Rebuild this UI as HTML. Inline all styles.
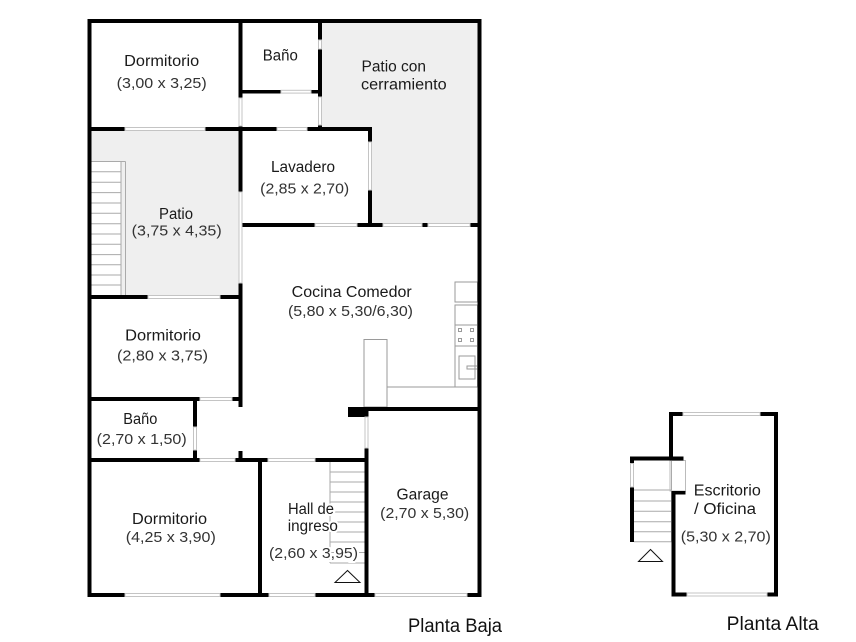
<!DOCTYPE html>
<html><head><meta charset="utf-8"><style>
html,body{margin:0;padding:0;background:#fff;}
svg{display:block;}
text{font-family:"Liberation Sans",sans-serif;}
.n{font-size:15.5px;fill:#1a1a1a;}
.d{font-size:15px;fill:#333;}
.t{font-size:19px;fill:#111;}
.w{fill:#fff;stroke:#c4c4c4;stroke-width:1;}
.f{fill:none;stroke:#9a9a9a;stroke-width:1;}
.h{stroke:#fff;stroke-width:4;paint-order:stroke;}
</style></head><body>
<svg width="856" height="642" viewBox="0 0 856 642" xmlns="http://www.w3.org/2000/svg">
<rect width="856" height="642" fill="#fff"/>
<polygon points="322,23 477.5,23 477.5,223 372,223 372,131 322,131" fill="#efefef"/>
<rect x="91.5" y="131" width="147" height="164" fill="#efefef"/>
<rect x="91.5" y="161.5" width="30" height="133.5" fill="#fff"/>
<g stroke="#aaa" stroke-width="1">
<line x1="91.5" y1="161.5" x2="125.5" y2="161.5"/>
<line x1="121" y1="161.5" x2="121" y2="295"/>
<line x1="125.5" y1="161.5" x2="125.5" y2="295"/>
<line x1="91.5" y1="171.7" x2="121" y2="171.7"/>
<line x1="91.5" y1="182.2" x2="121" y2="182.2"/>
<line x1="91.5" y1="192.6" x2="121" y2="192.6"/>
<line x1="91.5" y1="203" x2="121" y2="203"/>
<line x1="91.5" y1="213.3" x2="121" y2="213.3"/>
<line x1="91.5" y1="223.7" x2="121" y2="223.7"/>
<line x1="91.5" y1="234" x2="121" y2="234"/>
<line x1="91.5" y1="244.3" x2="121" y2="244.3"/>
<line x1="91.5" y1="254.6" x2="121" y2="254.6"/>
<line x1="91.5" y1="264.8" x2="121" y2="264.8"/>
<line x1="91.5" y1="275" x2="121" y2="275"/>
<line x1="91.5" y1="285" x2="121" y2="285"/>
</g>
<rect class="f" x="455" y="282" width="22.5" height="20" fill="#fff"/>
<rect class="f" x="455" y="305" width="22.5" height="82"/>
<line class="f" x1="455" y1="325" x2="477.5" y2="325"/>
<line class="f" x1="455" y1="346" x2="477.5" y2="346"/>
<rect class="f" x="458.5" y="328.5" width="3" height="3"/>
<rect class="f" x="470.5" y="328.5" width="3" height="3"/>
<rect class="f" x="458.5" y="338.5" width="3" height="3"/>
<rect class="f" x="470.5" y="338.5" width="3" height="3"/>
<rect class="f" x="459" y="356" width="16" height="23"/>
<rect class="f" x="467" y="366" width="10.5" height="3"/>
<rect class="f" x="364" y="339.5" width="23" height="67.5"/>
<line class="f" x1="387" y1="387" x2="455" y2="387"/>
<g stroke="#aaa" stroke-width="1">
<line x1="330" y1="462" x2="330" y2="563"/>
<line x1="330" y1="472" x2="364.5" y2="472"/>
<line x1="330" y1="482" x2="364.5" y2="482"/>
<line x1="330" y1="492" x2="364.5" y2="492"/>
<line x1="330" y1="502" x2="364.5" y2="502"/>
<line x1="330" y1="512" x2="364.5" y2="512"/>
<line x1="330" y1="522" x2="364.5" y2="522"/>
<line x1="330" y1="532" x2="364.5" y2="532"/>
<line x1="330" y1="542" x2="364.5" y2="542"/>
<line x1="330" y1="552.5" x2="364.5" y2="552.5"/>
<line x1="330" y1="563" x2="364.5" y2="563"/>
</g>
<polygon points="347.5,570.5 335,582.5 360,582.5" fill="none" stroke="#111" stroke-width="1"/>
<g fill="#000">
<rect x="87.5" y="19" width="394" height="4"/>
<rect x="87.5" y="593" width="394" height="4"/>
<rect x="87.5" y="19" width="4" height="578"/>
<rect x="477.5" y="19" width="4" height="578"/>
<rect x="238.5" y="19" width="4" height="388"/>
<rect x="238.5" y="451" width="4" height="11"/>
<rect x="87.5" y="127" width="155" height="4"/>
<rect x="238.5" y="90" width="83.5" height="3.5"/>
<rect x="318" y="19" width="4" height="112"/>
<rect x="238.5" y="127" width="133.5" height="4"/>
<rect x="368" y="127" width="4" height="100"/>
<rect x="238.5" y="223" width="243" height="4"/>
<rect x="87.5" y="295" width="155" height="4"/>
<rect x="87.5" y="397" width="155" height="4"/>
<rect x="193" y="397" width="4" height="65"/>
<rect x="87.5" y="458" width="281" height="4"/>
<rect x="258" y="458" width="4" height="139"/>
<rect x="364.5" y="407" width="4" height="190"/>
<rect x="348" y="407" width="19" height="10"/>
<rect x="364.5" y="407" width="117" height="4"/>
</g>
<rect class="w" x="125" y="593.5" width="95" height="3"/>
<rect class="w" x="269" y="593.5" width="46" height="3"/>
<rect class="w" x="375" y="593.5" width="92" height="3"/>
<rect class="w" x="125" y="127.5" width="80" height="3"/>
<rect class="w" x="281" y="90.3" width="30" height="2.8"/>
<rect class="w" x="277" y="127.5" width="30" height="3"/>
<rect class="w" x="368.5" y="142" width="3" height="48"/>
<rect class="w" x="318.5" y="40" width="3" height="9"/>
<rect class="w" x="318.5" y="97" width="3" height="28"/>
<rect class="w" x="239" y="98" width="3" height="28"/>
<rect class="w" x="239" y="192" width="3" height="91"/>
<rect class="w" x="315" y="223.5" width="42" height="3"/>
<rect class="w" x="383" y="223.5" width="39" height="3"/>
<rect class="w" x="428" y="223.5" width="42" height="3"/>
<rect class="w" x="148" y="295.5" width="72" height="3"/>
<rect class="w" x="200" y="397.5" width="32" height="3"/>
<rect class="w" x="193.5" y="427" width="3" height="23"/>
<rect class="w" x="200" y="458.5" width="35" height="3"/>
<rect class="w" x="268" y="458.5" width="47" height="3"/>
<rect class="w" x="365" y="417" width="3" height="31"/>
<g stroke="#aaa" stroke-width="1">
<line x1="634" y1="490" x2="671.5" y2="490"/>
<line x1="634" y1="501" x2="671.5" y2="501"/>
<line x1="634" y1="511.3" x2="671.5" y2="511.3"/>
<line x1="634" y1="521.7" x2="671.5" y2="521.7"/>
<line x1="634" y1="531.7" x2="671.5" y2="531.7"/>
<line x1="634" y1="541.7" x2="671.5" y2="541.7"/>
<line x1="671.5" y1="460.5" x2="671.5" y2="542"/>
</g>
<rect x="670" y="460.5" width="15.5" height="30.5" fill="none" stroke="#bbb" stroke-width="1"/>
<g fill="#000">
<rect x="669" y="412" width="109" height="4"/>
<rect x="774" y="412" width="4" height="184.5"/>
<rect x="671.5" y="592.5" width="106.5" height="4"/>
<rect x="669" y="412" width="4" height="48.5"/>
<rect x="630" y="456.5" width="53.5" height="4"/>
<rect x="630" y="456.5" width="4" height="85.5"/>
<rect x="671.5" y="491" width="4" height="105.5"/>
<rect x="671.5" y="491" width="14" height="3.5"/>
</g>
<rect class="w" x="683" y="412.5" width="77" height="3"/>
<rect class="w" x="687" y="593" width="80" height="3"/>
<rect class="w" x="630.5" y="463.5" width="3" height="23.5"/>
<polygon points="650.5,549.5 638.5,561.5 662.5,561.5" fill="none" stroke="#111" stroke-width="1"/>
<text class="n" x="161.7" y="66" text-anchor="middle" textLength="75" lengthAdjust="spacingAndGlyphs">Dormitorio</text>
<text class="d" x="161.7" y="88" text-anchor="middle" textLength="90" lengthAdjust="spacingAndGlyphs">(3,00 x 3,25)</text>
<text class="n" x="280.3" y="60.5" text-anchor="middle" textLength="35" lengthAdjust="spacingAndGlyphs">Baño</text>
<text class="n" x="361.5" y="71.5" textLength="64.5" lengthAdjust="spacingAndGlyphs">Patio con</text>
<text class="n" x="361" y="89.5" textLength="85.7" lengthAdjust="spacingAndGlyphs">cerramiento</text>
<text class="n" x="303" y="172" text-anchor="middle" textLength="64" lengthAdjust="spacingAndGlyphs">Lavadero</text>
<text class="d" x="304.7" y="193.5" text-anchor="middle" textLength="89" lengthAdjust="spacingAndGlyphs">(2,85 x 2,70)</text>
<text class="n" x="176" y="219" text-anchor="middle" textLength="34" lengthAdjust="spacingAndGlyphs">Patio</text>
<text class="d" x="176.7" y="235.5" text-anchor="middle" textLength="90" lengthAdjust="spacingAndGlyphs">(3,75 x 4,35)</text>
<text class="n" x="351.7" y="297" text-anchor="middle" textLength="120" lengthAdjust="spacingAndGlyphs">Cocina Comedor</text>
<text class="d" x="350.5" y="316" text-anchor="middle" textLength="125" lengthAdjust="spacingAndGlyphs">(5,80 x 5,30/6,30)</text>
<text class="n" x="163" y="340.5" text-anchor="middle" textLength="75.7" lengthAdjust="spacingAndGlyphs">Dormitorio</text>
<text class="d" x="162.5" y="360.5" text-anchor="middle" textLength="91" lengthAdjust="spacingAndGlyphs">(2,80 x 3,75)</text>
<text class="n" x="140.3" y="423.8" text-anchor="middle" textLength="34" lengthAdjust="spacingAndGlyphs">Baño</text>
<text class="d" x="141.7" y="443.8" text-anchor="middle" textLength="90" lengthAdjust="spacingAndGlyphs">(2,70 x 1,50)</text>
<text class="n" x="169.5" y="523.8" text-anchor="middle" textLength="75" lengthAdjust="spacingAndGlyphs">Dormitorio</text>
<text class="d" x="170.8" y="542" text-anchor="middle" textLength="90" lengthAdjust="spacingAndGlyphs">(4,25 x 3,90)</text>
<text class="n h" x="311" y="513.8" text-anchor="middle" textLength="46" lengthAdjust="spacingAndGlyphs">Hall de</text>
<text class="n h" x="312.8" y="531" text-anchor="middle" textLength="50" lengthAdjust="spacingAndGlyphs">ingreso</text>
<text class="d h" x="313.5" y="558" text-anchor="middle" textLength="89" lengthAdjust="spacingAndGlyphs">(2,60 x 3,95)</text>
<text class="n" x="422.5" y="499.5" text-anchor="middle" textLength="52" lengthAdjust="spacingAndGlyphs">Garage</text>
<text class="d" x="424.7" y="518" text-anchor="middle" textLength="89" lengthAdjust="spacingAndGlyphs">(2,70 x 5,30)</text>
<text class="n" x="727.3" y="495.5" text-anchor="middle" textLength="67" lengthAdjust="spacingAndGlyphs">Escritorio</text>
<text class="n" x="725" y="514" text-anchor="middle" textLength="62" lengthAdjust="spacingAndGlyphs">/ Oficina</text>
<text class="d" x="725.8" y="541.5" text-anchor="middle" textLength="90" lengthAdjust="spacingAndGlyphs">(5,30 x 2,70)</text>
<text class="t" x="408" y="632" textLength="94" lengthAdjust="spacingAndGlyphs">Planta Baja</text>
<text class="t" x="726.7" y="630" textLength="92" lengthAdjust="spacingAndGlyphs">Planta Alta</text>
</svg>
</body></html>
